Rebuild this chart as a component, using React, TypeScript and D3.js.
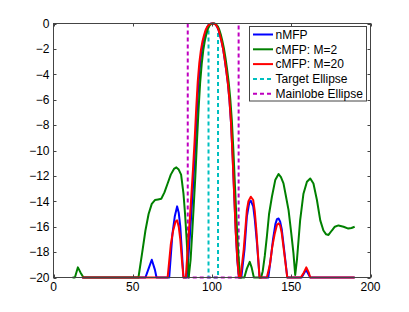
import React from 'react';
import * as d3 from 'd3';

// [range, level dB] pairs
const nMFP: [number, number][] = [
  [18, -20], [58, -20], [60, -19.3], [62, -18.6], [64, -19.4], [65, -20],
  [73, -20], [75, -16.6], [76.5, -15.2], [78, -14.4], [79, -14.9], [80, -16], [81, -18], [82, -20],
  [84, -20], [85, -18.6], [86, -16.8], [87, -14.9], [88, -12.9], [89, -10.7], [90, -8.2], [91, -5.6],
  [92, -3.9], [93, -2.6], [94, -1.7], [95, -1.1], [96, -0.65], [97, -0.3], [98, -0.1], [99, -0.02],
  [100, 0], [101, 0], [102, -0.05], [103, -0.2], [104, -0.45], [105, -0.9], [106, -1.4], [107, -2],
  [108, -2.8], [109, -3.7], [110, -4.7], [111, -6], [112, -7.8], [113, -10.4], [114, -13.4],
  [115, -16.4], [116, -18.7], [117, -20],
  [118.5, -20], [120.5, -17.8], [122, -15.2], [123.5, -14.1], [124.5, -13.96], [126, -14.4],
  [127, -15.4], [128.5, -17.5], [130, -20],
  [135.5, -20], [137, -18.6], [138.5, -17], [140, -15.8], [141, -15.4], [142, -15.35], [143, -15.6],
  [144, -16.2], [145.5, -17.8], [147.5, -20],
  [156.5, -20], [159.3, -19.4], [162, -20], [190, -20],
];

const cMFP2: [number, number][] = [
  [12, -20], [13.5, -20], [15.4, -19.2], [17, -19.6], [18.9, -20], [53.6, -20], [56, -18],
  [58, -16.3], [60, -15], [62, -14.2], [64, -13.9], [66, -13.85], [68, -13.8], [70, -13.3],
  [72, -12.6], [74, -11.9], [76, -11.45], [77.5, -11.33], [79, -11.5], [80.5, -11.9], [82, -13.4],
  [83, -15], [84, -17], [85.3, -20], [86.5, -18.6], [87.5, -16.5], [88.5, -14.3], [89.5, -12],
  [90.5, -9.3], [91.5, -6.8], [92.5, -4.7], [93.5, -3.2], [94.5, -2.1], [95.5, -1.35], [96.5, -0.8],
  [97.5, -0.4], [98.5, -0.15], [99.5, -0.03], [100.5, 0], [101.5, 0], [102.5, -0.05], [103.5, -0.2],
  [104.5, -0.45], [105.5, -0.85], [106.5, -1.35], [107.5, -1.95], [108.5, -2.7], [109.5, -3.6],
  [110.5, -4.6], [111.5, -5.9], [112.5, -7.6], [113.5, -10], [114.5, -12.8], [115.5, -15.6],
  [116.5, -18], [117.8, -20], [120.4, -20], [122, -19.3], [123.8, -18.77], [125, -19.2],
  [126.4, -20], [131, -20], [132, -19.5], [133.3, -18.3], [134.6, -16.8], [136, -15],
  [137.8, -13.64], [139.9, -12.33], [142, -11.85], [143.5, -12.1], [145.1, -12.59], [146.5, -13.5],
  [148.3, -14.7], [150, -16.5], [151.4, -18.1], [152.5, -19.8], [153.6, -18.6], [155.6, -15.5],
  [157.7, -13.4], [159.9, -12.46], [162, -12.2], [164, -12.6], [166.2, -13.9], [168.3, -15.5],
  [170.3, -16.3], [172, -16.6], [173.5, -16.65], [175.6, -16.3], [177.5, -16], [179.8, -15.9],
  [183, -16], [186, -16.15], [188, -16.1], [190, -16],
];

const cMFP20: [number, number][] = [
  [18, -20], [72, -20], [74, -17.4], [75.5, -16.3], [77, -15.6], [78, -15.5], [79, -16], [80, -17],
  [81, -18.6], [82, -20], [83.5, -20], [84, -19], [85, -17.2], [86, -15.4], [87, -13.5], [88, -11.5],
  [89, -9.3], [90, -6.8], [91, -4.6], [92, -3.1], [93, -2.1], [94, -1.4], [95, -0.9], [96, -0.5],
  [97, -0.25], [98, -0.1], [99, -0.02], [100, 0], [101, 0], [102, -0.05], [103, -0.2], [104, -0.45],
  [105, -0.9], [106, -1.4], [107, -2], [108, -2.8], [109, -3.7], [110, -4.7], [111, -6],
  [112, -7.8], [113, -10.5], [114, -13.5], [115, -16.5], [116, -18.6], [117, -20],
  [118, -20], [120, -17.8], [122, -14.7], [123, -14], [124.5, -13.64], [126, -13.9], [127, -14.8],
  [128, -16.3], [129, -18.2], [130, -20],
  [134.6, -20], [136.5, -19], [138, -17.6], [139.5, -16.6], [141, -15.85], [142, -15.74],
  [143, -15.9], [144, -16.5], [145.5, -18], [147.5, -20],
  [156, -20], [158, -19.6], [159.5, -19.2], [161, -19.6], [162, -20], [190, -20],
];

const targetEllipse = [97.8, 103.8];
const mainlobeEllipse = [84.7, 116.8];

const xTicks = [0, 50, 100, 150, 200];
const yTicks = [0, -2, -4, -6, -8, -10, -12, -14, -16, -18, -20];

const legendItems = [
  { label: 'nMFP', color: '#0000ff', dash: '' },
  { label: 'cMFP: M=2', color: '#008000', dash: '' },
  { label: 'cMFP: M=20', color: '#ff0000', dash: '' },
  { label: 'Target Ellipse', color: '#00bfbf', dash: '4,3' },
  { label: 'Mainlobe Ellipse', color: '#bf00bf', dash: '4,3' },
];

const W = 409, H = 312;
const left = 53.5, right = 370.5, top = 23.5, bottom = 277.5;

export default function App() {
  const x = d3.scaleLinear().domain([0, 200]).range([left, right]);
  const y = d3.scaleLinear().domain([-20, 0]).range([bottom, top]);
  const line = d3.line<[number, number]>().x(d => x(d[0])).y(d => y(d[1]));

  // ellipse shown as its clipped outline: two sides plus the floor
  const box = (r: number[]) =>
    line([[r[0], 0], [r[0], -20], [r[1], -20], [r[1], 0]]) || '';

  const font = 'Liberation Sans, Arial, Helvetica, sans-serif';
  const axisColor = '#444';

  return (
    <svg width={W} height={H} style={{ position: 'absolute', left: 0, top: 0, background: '#fff' }}
      fontFamily={font}>
      <rect x={0} y={0} width={W} height={H} fill="#fff" />
      {/* data */}
      <path d={box(targetEllipse)} fill="none" stroke="#00bfbf" strokeWidth={2} strokeDasharray="4,3" />
      <path d={box(mainlobeEllipse)} fill="none" stroke="#bf00bf" strokeWidth={2} strokeDasharray="4,3" />
      <path d={line(nMFP) || ''} fill="none" stroke="#0000ff" strokeWidth={2} strokeLinejoin="round" />
      <path d={line(cMFP2) || ''} fill="none" stroke="#008000" strokeWidth={2} strokeLinejoin="round" />
      <path d={line(cMFP20) || ''} fill="none" stroke="#ff0000" strokeWidth={2} strokeLinejoin="round" />

      {/* axes box */}
      <rect x={left} y={top} width={right - left} height={bottom - top} fill="none" stroke={axisColor} strokeWidth={1} />
      {xTicks.map(t => (
        <g key={'x' + t}>
          <line x1={Math.round(x(t)) + 0.5} x2={Math.round(x(t)) + 0.5} y1={bottom} y2={bottom - 3} stroke={axisColor} />
          <line x1={Math.round(x(t)) + 0.5} x2={Math.round(x(t)) + 0.5} y1={top} y2={top + 3} stroke={axisColor} />
          <text x={x(t)} y={bottom + 13.5} fontSize={12} textAnchor="middle" fill="#000">{t}</text>
        </g>
      ))}
      {yTicks.map(t => (
        <g key={'y' + t}>
          <line x1={left} x2={left + 3} y1={Math.round(y(t)) + 0.5} y2={Math.round(y(t)) + 0.5} stroke={axisColor} />
          <line x1={right} x2={right - 3} y1={Math.round(y(t)) + 0.5} y2={Math.round(y(t)) + 0.5} stroke={axisColor} />
          <text x={left - 4} y={y(t) + 4.2} fontSize={12} textAnchor="end" fill="#000">
            {t < 0 ? '\u2212' + Math.abs(t) : t}
          </text>
        </g>
      ))}

      {/* legend */}
      <rect x={249.5} y={26.5} width={117} height={74.5} fill="#fff" stroke={axisColor} />
      {legendItems.map((d, i) => {
        const ly = 34.5 + i * 14.8;
        return (
          <g key={d.label}>
            <line x1={253} x2={273} y1={ly} y2={ly} stroke={d.color} strokeWidth={2} strokeDasharray={d.dash || undefined} />
            <text x={275.5} y={ly + 4.3} fontSize={12} fill="#000">{d.label}</text>
          </g>
        );
      })}
    </svg>
  );
}
